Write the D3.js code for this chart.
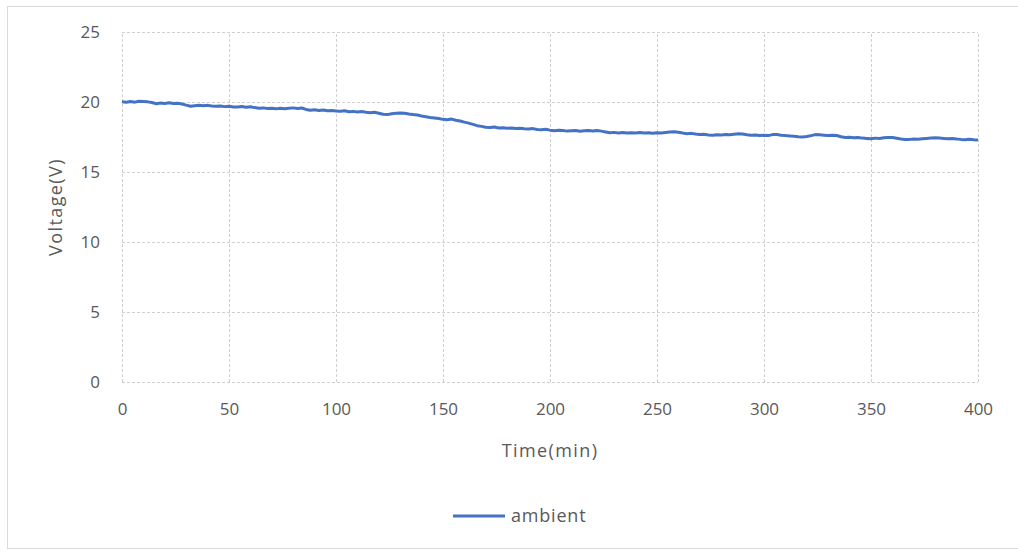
<!DOCTYPE html>
<html>
<head>
<meta charset="utf-8">
<script src="https://cdn.jsdelivr.net/npm/d3@7"></script>
<style>
  body { margin: 0; background: #fff; }
  text { font-family: "Open Sans", "Noto Sans", sans-serif; fill: #595959; }
</style>
</head>
<body>
<div id="chart"></div>
<script>
// time axis, one reading every 2 minutes
const times = d3.range(0, 401, 2);
// voltage readings
const ambient = [
  20.02, 19.98, 20.03, 19.99, 20.05, 20.04, 20.01, 19.96, 19.88, 19.93,
  19.90, 19.94, 19.89, 19.91, 19.86, 19.78, 19.70, 19.74, 19.77, 19.73,
  19.76, 19.71, 19.69, 19.72, 19.67, 19.70, 19.65, 19.64, 19.68, 19.62,
  19.66, 19.60, 19.56, 19.58, 19.53, 19.55, 19.51, 19.56, 19.52, 19.55,
  19.58, 19.54, 19.57, 19.47, 19.41, 19.44, 19.40, 19.43, 19.38, 19.40,
  19.36, 19.34, 19.37, 19.31, 19.33, 19.29, 19.32, 19.27, 19.24, 19.27,
  19.20, 19.12, 19.10, 19.16, 19.19, 19.22, 19.20, 19.14, 19.10, 19.07,
  19.00, 18.95, 18.90, 18.86, 18.82, 18.76, 18.73, 18.78, 18.70, 18.64,
  18.56, 18.49, 18.40, 18.31, 18.26, 18.20, 18.18, 18.21, 18.14, 18.16,
  18.12, 18.15, 18.10, 18.13, 18.09, 18.07, 18.10, 18.03, 18.02, 18.05,
  17.99, 17.95, 17.98, 17.96, 17.92, 17.94, 17.96, 17.91, 17.94, 17.97,
  17.93, 17.97, 17.92, 17.86, 17.80, 17.83, 17.79, 17.82, 17.78, 17.81,
  17.79, 17.82, 17.78, 17.80, 17.77, 17.80, 17.78, 17.82, 17.86, 17.88,
  17.84, 17.78, 17.74, 17.76, 17.71, 17.68, 17.70, 17.65, 17.62, 17.66,
  17.64, 17.68, 17.66, 17.70, 17.73, 17.72, 17.66, 17.62, 17.64, 17.60,
  17.63, 17.60, 17.67, 17.68, 17.63, 17.60, 17.58, 17.55, 17.52, 17.50,
  17.53, 17.60, 17.67, 17.66, 17.63, 17.60, 17.62, 17.61, 17.52, 17.46,
  17.48, 17.44, 17.47, 17.42, 17.40, 17.38, 17.42, 17.39, 17.44, 17.47,
  17.46, 17.41, 17.36, 17.32, 17.33, 17.36, 17.34, 17.38, 17.40, 17.42,
  17.44, 17.42, 17.40, 17.38, 17.40, 17.36, 17.33, 17.31, 17.34, 17.30,
  17.28
];
const xTicks = [0, 50, 100, 150, 200, 250, 300, 350, 400];
const yTicks = [0, 5, 10, 15, 20, 25];
const seriesName = "ambient";

const width = 1018, height = 552;
const marginTop = 32, marginRight = 40, marginBottom = 170, marginLeft = 122;
const lineColor = "#4472C4";

const x = d3.scaleLinear([0, 400], [marginLeft, width - marginRight]);
const y = d3.scaleLinear([0, 25], [height - marginBottom, marginTop]);

const svg = d3.select("#chart").append("svg")
    .attr("width", width)
    .attr("height", height)
    .attr("viewBox", [0, 0, width, height]);

// outer chart frame
svg.append("rect")
    .attr("x", 7.5).attr("y", 6.5)
    .attr("width", width).attr("height", 542)
    .attr("fill", "none")
    .attr("stroke", "#d9d9d9");

// dashed gridlines
svg.append("g")
    .attr("transform", `translate(0,${height - marginBottom})`)
    .call(d3.axisBottom(x).tickValues(xTicks).tickSize(-(height - marginBottom - marginTop)).tickPadding(21))
    .call(g => g.select(".domain").remove())
    .call(g => g.selectAll("line").attr("stroke", "#d0d0d0").attr("stroke-dasharray", "3,2"))
    .call(g => g.selectAll("text").attr("font-size", 17).attr("fill", "#595959")
        .attr("font-family", "'Open Sans', sans-serif"));

svg.append("g")
    .attr("transform", `translate(${marginLeft},0)`)
    .call(d3.axisLeft(y).tickValues(yTicks).tickSize(-(width - marginLeft - marginRight)).tickPadding(22))
    .call(g => g.select(".domain").remove())
    .call(g => g.selectAll("line").attr("stroke", "#d0d0d0").attr("stroke-dasharray", "3,2"))
    .call(g => g.selectAll("text").attr("font-size", 17).attr("fill", "#595959")
        .attr("font-family", "'Open Sans', sans-serif"));

// the series
const line = d3.line()
    .x((d, i) => x(times[i]))
    .y(d => y(d));

svg.append("path")
    .datum(ambient)
    .attr("fill", "none")
    .attr("stroke", lineColor)
    .attr("stroke-width", 3)
    .attr("stroke-linejoin", "round")
    .attr("d", line);

// axis titles
svg.append("text")
    .attr("x", (marginLeft + width - marginRight) / 2)
    .attr("y", 457)
    .attr("text-anchor", "middle")
    .attr("font-size", 18)
    .attr("letter-spacing", 1.4)
    .text("Time(min)");

svg.append("text")
    .attr("transform", `translate(62,${(marginTop + height - marginBottom) / 2}) rotate(-90)`)
    .attr("text-anchor", "middle")
    .attr("font-size", 18)
    .attr("letter-spacing", 1.4)
    .text("Voltage(V)");

// legend
const legend = svg.append("g").attr("transform", "translate(453,516)");
legend.append("line")
    .attr("x1", 0).attr("x2", 52)
    .attr("stroke", lineColor)
    .attr("stroke-width", 3);
legend.append("text")
    .attr("x", 58).attr("y", 6)
    .attr("font-size", 18)
    .attr("letter-spacing", 0.8)
    .text(seriesName);
</script>
</body>
</html>
